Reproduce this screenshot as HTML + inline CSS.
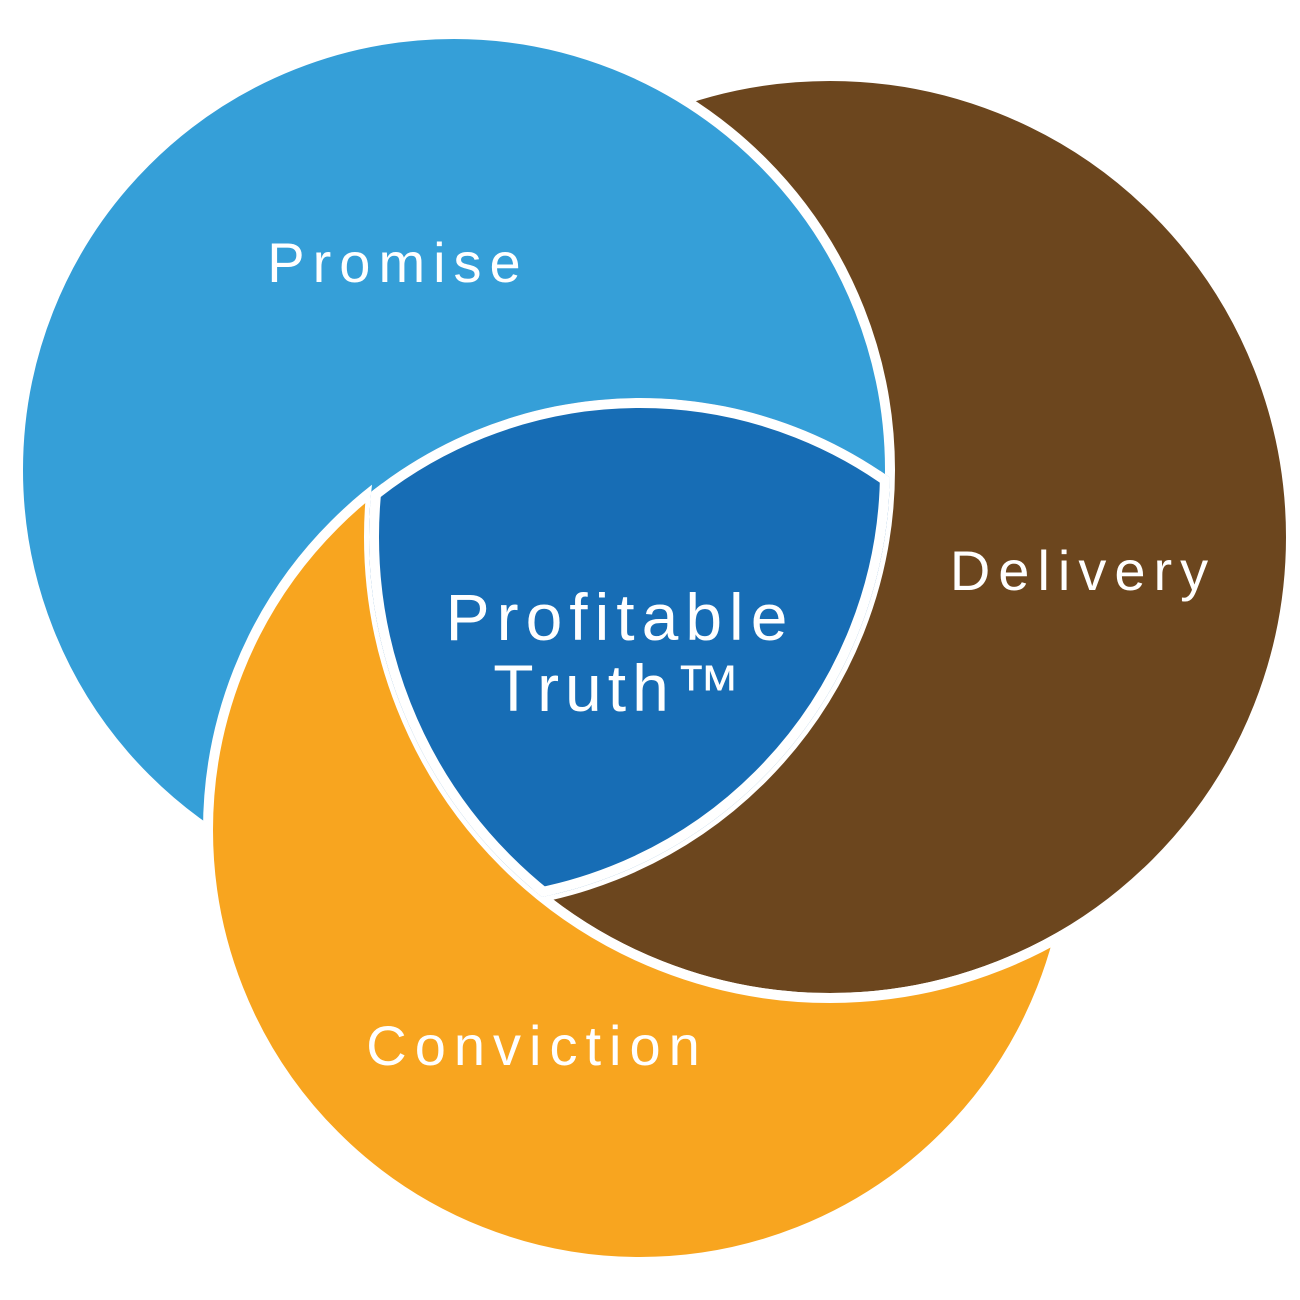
<!DOCTYPE html>
<html><head><meta charset="utf-8"><style>
html,body{margin:0;padding:0;background:#fff;}
svg{display:block}
text{font-family:"Liberation Sans",sans-serif;fill:#fff;}
</style></head><body>
<svg width="1300" height="1300" viewBox="0 0 1300 1300" xmlns="http://www.w3.org/2000/svg">
<defs>
  <clipPath id="cBlue"><circle cx="454" cy="470" r="436"/></clipPath>
  <clipPath id="cOrange"><circle cx="640" cy="830" r="432"/></clipPath>
  <clipPath id="cBrown"><circle cx="830" cy="537" r="461"/></clipPath>
  <mask id="mNoBrown" maskUnits="userSpaceOnUse" x="0" y="0" width="1300" height="1300">
    <rect x="0" y="0" width="1300" height="1300" fill="#fff"/>
    <circle cx="830" cy="537" r="461" fill="#000"/>
  </mask>
</defs>
<circle cx="830" cy="537" r="461" fill="#6c461e" stroke="#fff" stroke-width="10"/>
<circle cx="454" cy="470" r="436" fill="#359fd8" stroke="#fff" stroke-width="10"/>
<g mask="url(#mNoBrown)">
  <circle cx="640" cy="830" r="432" fill="#f8a51f" stroke="#fff" stroke-width="10"/>
</g>
<g clip-path="url(#cOrange)">
  <circle cx="830" cy="537" r="461" fill="none" stroke="#fff" stroke-width="10"/>
</g>
<g clip-path="url(#cBlue)">
  <g clip-path="url(#cOrange)">
    <g clip-path="url(#cBrown)">
      <rect x="0" y="0" width="1300" height="1300" fill="#176db5"/>
      <circle cx="454" cy="470" r="436" fill="none" stroke="#fff" stroke-width="20"/>
      <circle cx="640" cy="830" r="432" fill="none" stroke="#fff" stroke-width="20"/>
      <circle cx="830" cy="537" r="461" fill="none" stroke="#fff" stroke-width="20"/>
    </g>
  </g>
</g>
<text x="398" y="282" font-size="56" text-anchor="middle" letter-spacing="8">Promise</text>
<text x="1083" y="590" font-size="56" text-anchor="middle" letter-spacing="8">Delivery</text>
<text x="537" y="1065" font-size="56" text-anchor="middle" letter-spacing="8">Conviction</text>
<text x="620" y="640" font-size="66" text-anchor="middle" letter-spacing="7">Profitable</text>
<text x="620" y="711" font-size="66" text-anchor="middle" letter-spacing="6">Truth™</text>
</svg>
</body></html>
